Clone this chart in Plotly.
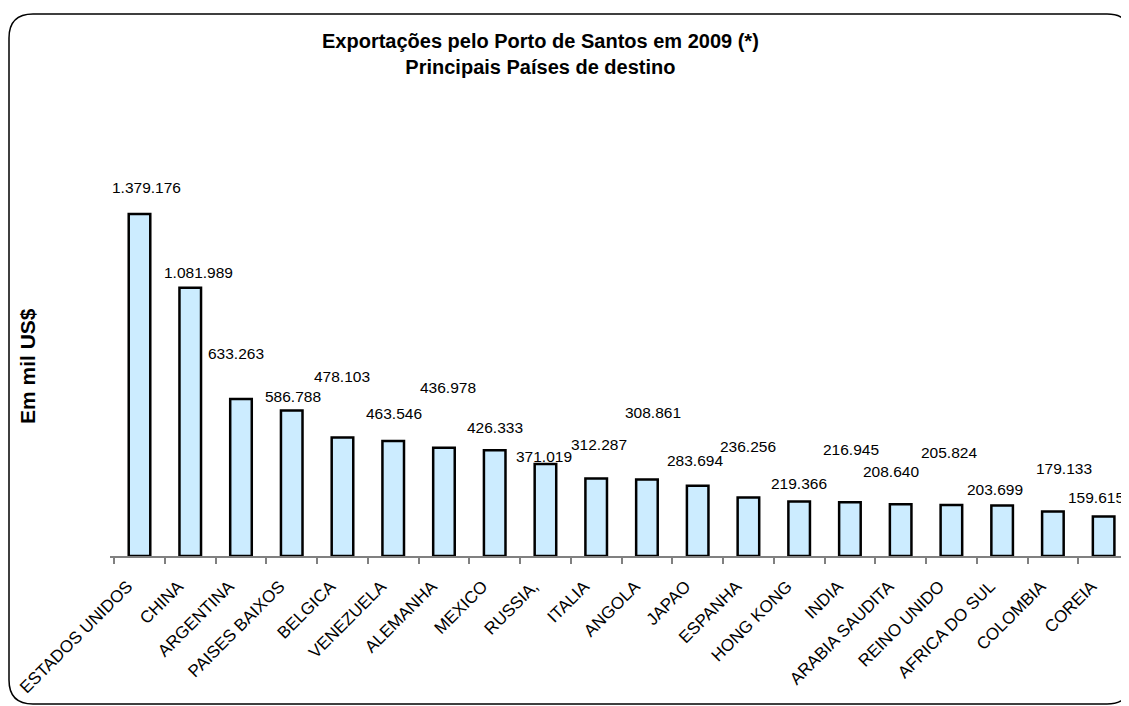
import plotly.graph_objects as go

# ---- data ----
countries = ["ESTADOS UNIDOS", "CHINA", "ARGENTINA", "PAISES BAIXOS", "BELGICA",
             "VENEZUELA", "ALEMANHA", "MEXICO", "RUSSIA,", "ITALIA", "ANGOLA",
             "JAPAO", "ESPANHA", "HONG KONG", "INDIA", "ARABIA SAUDITA",
             "REINO UNIDO", "AFRICA DO SUL", "COLOMBIA", "COREIA"]
values = [1379176, 1081989, 633263, 586788, 478103, 463546, 436978, 426333,
          371019, 312287, 308861, 283694, 236256, 219366, 216945, 208640,
          205824, 203699, 179133, 159615]
value_text = ["1.379.176", "1.081.989", "633.263", "586.788", "478.103", "463.546",
              "436.978", "426.333", "371.019", "312.287", "308.861", "283.694",
              "236.256", "219.366", "216.945", "208.640", "205.824", "203.699",
              "179.133", "159.615"]
title_text = "<b>Exportações pelo Porto de Santos em 2009 (*)<br>Principais Países de destino</b>"
ytitle_text = "<b>Em mil US$</b>"

# ---- label placement (pixel offsets from bar tops, style only) ----
label_dy = [27, 15, 45, 14, 61, 28, 60, 23, 8, 34, 67, 25, 51, 18, 53, 33, 52, 16, 43, 19]
label_dx = [7, 8, -5, 1, 0, 1, 4, 0, -1, 3, 6, -3, 0, 0, 1, -10, -2, -7, 11, -8]

# page has an 8px body margin: figure is placed at (8, 8)
OFF = 8
W, H = 1129 - OFF, 706 - OFF
# plot area in window pixels: x 110..1129, y 100..556
L, R, T, B = 110 - OFF, 0, 100 - OFF, 706 - 556
PW, PH = W - L - R, H - T - B
FONT = "Liberation Sans, Arial, sans-serif"

def px(x):
    """window pixel x -> paper"""
    return (x - OFF - L) / PW

def py(y):
    """window pixel y -> paper"""
    return (556 - y) / PH

fig = go.Figure()
fig.add_trace(go.Bar(
    x=countries, y=values,
    marker=dict(color="#CCECFF", line=dict(color="#000000", width=2.5)),
    hoverinfo="skip",
))

annotations = []
for c, v, t, dy, dx in zip(countries, values, value_text, label_dy, label_dx):
    annotations.append(dict(x=c, y=v, xref="x", yref="y", text=t, showarrow=False,
                            yanchor="middle", xanchor="center", yshift=dy, xshift=dx,
                            font=dict(family=FONT, size=15.5, color="#000000")))
annotations.append(dict(x=px(540), y=py(54), xref="paper", yref="paper",
                        text=title_text, showarrow=False, xanchor="center", yanchor="middle",
                        font=dict(family=FONT, size=20, color="#000000")))
annotations.append(dict(x=px(28), y=py(366), xref="paper", yref="paper",
                        text=ytitle_text, showarrow=False, textangle=-90,
                        xanchor="center", yanchor="middle",
                        font=dict(family=FONT, size=21, color="#000000")))

# rounded chart border (window pixels)
x0, y0, x1, y1, r = 9, 14, 1131, 704, 24
pts = [
    ("M", px(x0), py(y0 + r)),
    ("Q", px(x0), py(y0), px(x0 + r), py(y0)),
    ("L", px(x1 - r), py(y0)),
    ("Q", px(x1), py(y0), px(x1), py(y0 + r)),
    ("L", px(x1), py(y1 - r)),
    ("Q", px(x1), py(y1), px(x1 - r), py(y1)),
    ("L", px(x0 + r), py(y1)),
    ("Q", px(x0), py(y1), px(x0), py(y1 - r)),
]
path = ""
for p in pts:
    cmd = p[0]
    coords = p[1:]
    if cmd == "Q":
        path += f"Q{coords[0]},{coords[1]} {coords[2]},{coords[3]} "
    else:
        path += f"{cmd}{coords[0]},{coords[1]} "
path += "Z"

fig.update_layout(
    width=W, height=H,
    margin=dict(l=L, r=R, t=T, b=B, autoexpand=False),
    paper_bgcolor="white", plot_bgcolor="white",
    showlegend=False,
    bargap=0.575,
    annotations=annotations,
    shapes=[dict(type="path", path=path, xref="paper", yref="paper",
                 line=dict(color="#000000", width=1.5), layer="above")],
    xaxis=dict(
        type="category", tickangle=-45, tickson="boundaries",
        ticks="outside", ticklen=6, tickcolor="#808080", tickwidth=1.5,
        showline=True, linecolor="#808080", linewidth=1.5,
        showgrid=False, zeroline=False,
        ticklabelstandoff=12, ticklabelshift=-12,
        tickfont=dict(family=FONT, size=17, color="#000000"),
    ),
    yaxis=dict(
        range=[0, 1838932], visible=False, showgrid=False, zeroline=False,
    ),
    font=dict(family=FONT),
)

fig.write_html("out.html")
